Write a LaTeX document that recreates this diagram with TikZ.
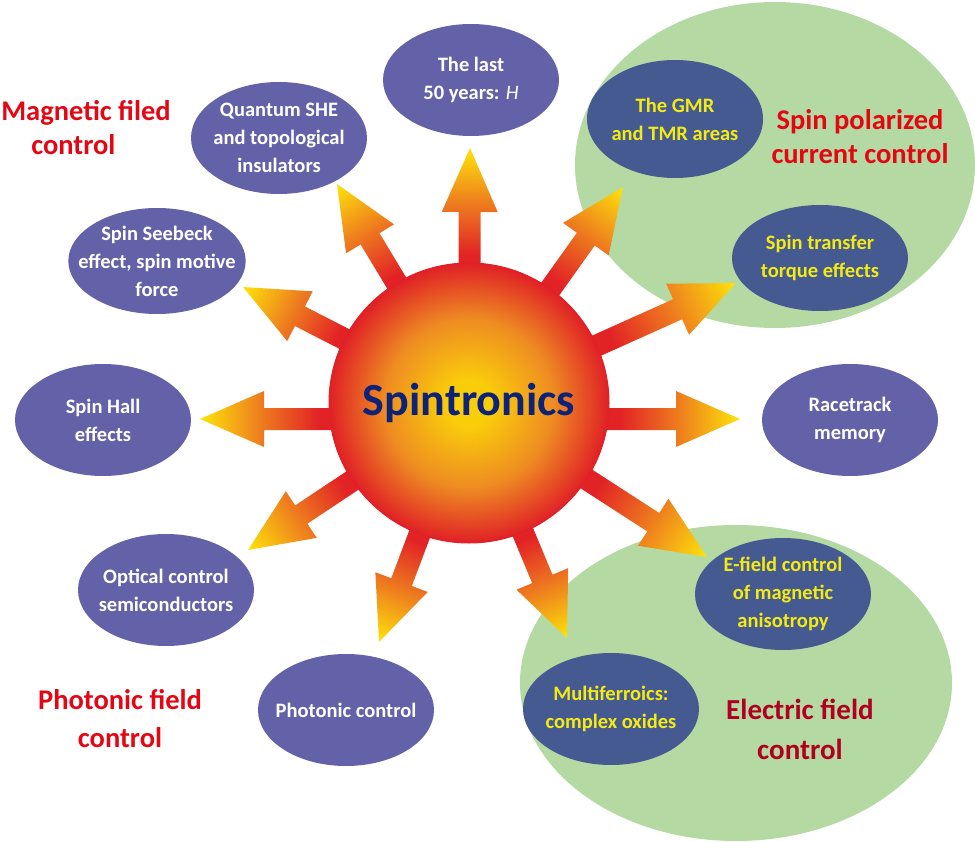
\documentclass[tikz,border=0pt]{standalone}
\usepackage{fontspec}
\setmainfont{Carlito}
\usetikzlibrary{shapes.geometric,calc}

\definecolor{topicpurple}{RGB}{99,97,167}
\definecolor{subblue}{RGB}{69,90,145}
\definecolor{subyellow}{RGB}{245,235,20}
\definecolor{zonegreen}{RGB}{181,217,163}
\definecolor{fieldred}{RGB}{227,6,19}
\definecolor{darkfieldred}{RGB}{176,0,32}
\definecolor{sunblue}{RGB}{12,35,120}
\definecolor{sunyellow}{RGB}{250,205,10}
\definecolor{sunorange}{RGB}{238,140,34}
\definecolor{sunred}{RGB}{224,32,38}
\definecolor{rayred}{RGB}{226,35,38}
\definecolor{rayorange}{RGB}{238,125,30}
\definecolor{rayyellow}{RGB}{253,228,10}

\pgfdeclarehorizontalshading{raygrad}{100bp}{color(0bp)=(rayred); color(25bp)=(rayred); color(36bp)=(rayred); color(55bp)=(rayorange); color(75bp)=(rayyellow); color(100bp)=(rayyellow)}
\pgfdeclareradialshading{sunball}{\pgfpoint{0bp}{0bp}}{color(0bp)=(sunyellow); color(4bp)=(sunyellow); color(15bp)=(sunorange); color(22bp)=(sunred!70!sunorange); color(25bp)=(sunred); color(50bp)=(sunred)}

\pgfdeclarelayer{zones}
\pgfdeclarelayer{rays}
\pgfsetlayers{zones,rays,main}

\tikzset{
  topic/.style={ellipse, fill=topicpurple, text=white,
    inner xsep=-16pt, inner ysep=0pt,
    font=\bfseries\fontsize{20.5}{28}\selectfont, align=center,
    minimum width=176pt, minimum height=112pt},
  subtopic/.style={topic, fill=subblue, text=subyellow},
  zone/.style={ellipse, fill=zonegreen, inner sep=0pt},
  field/.style={text=fieldred, align=center,
    font=\bfseries\fontsize{28.5}{34}\selectfont},
}

% block arrow from #1 to the tip #2
\newcommand\ray[2]{%
  \path let \p1=($(#2)-(#1)$) in
    \pgfextra{\pgfmathsetmacro\rayang{atan2(\y1,\x1)}%
      \pgfmathsetmacro\raylen{veclen(\x1,\y1)}%
      \global\let\rayang\rayang\global\let\raylen\raylen};
  \shade[shading=raygrad, transform canvas={shift={(#1)},rotate=\rayang}]
    (118,-11) -- ({\raylen-64},-11) -- ({\raylen-64},-28) -- (\raylen,0)
    -- ({\raylen-64},28) -- ({\raylen-64},11) -- (118,11) -- cycle;
}

\begin{document}
\begin{tikzpicture}[x=1pt,y=-1pt]
\useasboundingbox (0,0) rectangle (975,842);

\begin{pgfonlayer}{zones}
\node[zone, minimum width=400pt, minimum height=326pt] (spinzone) at (775,165) {};
\node[zone, minimum width=432pt, minimum height=316pt] (elzone) at (736,683) {};
\end{pgfonlayer}

% the sun
\coordinate (core) at (469,403);
\coordinate (coremid) at (469,419);
\node[circle, minimum size=280pt, shade, shading=sunball, draw=sunred, line width=1pt,
  text=sunblue, font=\bfseries\fontsize{46}{50}\selectfont] (sun) at (core) {Spintronics};

% topics
\node[topic] (last) at (471,80) {The last\\50 years: \textit{\mdseries H}};
\node[topic] (qshe) at (279,138) {Quantum SHE\\and topological\\insulators};
\node[topic, minimum height=106pt] (seebeck) at (157,261) {Spin Seebeck\\effect, spin motive\\force};
\node[topic] (hall) at (103,420) {Spin Hall\\effects};
\node[topic] (optical) at (166,590) {Optical control\\semiconductors};
\node[topic] (photonic) at (346,710) {Photonic control};
\node[topic] (race) at (850,420) {Racetrack\\memory};
\node[subtopic, minimum height=118pt] (gmr) at (675,119) {The GMR\\and TMR areas};
\node[subtopic, minimum height=106pt] (stt) at (820,258) {Spin transfer\\torque effects};
\node[subtopic] (efield) at (783,594) {E-field control\\of magnetic\\anisotropy};
\node[subtopic] (multi) at (611,709) {Multiferroics:\\complex oxides};

% field labels
\node[field, align=left] (magfield) at (86,128) {Magnetic filed\\\hspace*{30pt}control};
\node[field] (spinfield) at (860,137) {Spin polarized\\current control};
\node[field, text=darkfieldred, font=\bfseries\fontsize{29}{40}\selectfont] (elfield) at (800,729) {Electric field\\control};
\node[field, font=\bfseries\fontsize{28.5}{38}\selectfont] (photfield) at (120,719) {Photonic field\\control};

% rays
\begin{pgfonlayer}{rays}
\coordinate (tiplast) at (470,148);
\coordinate (tipqshe) at (337,184);
\coordinate (tipseebeck) at (243,287);
\coordinate (tiphall) at (200,419);
\coordinate (tipoptical) at (248,550);
\coordinate (tipphotonic) at (379,642);
\coordinate (tipmulti) at (567,638);
\coordinate (tipefield) at (707,557);
\coordinate (tiprace) at (740,419);
\coordinate (tipstt) at (736,283);
\coordinate (tipgmr) at (623,187);
\ray{core}{tiplast}
\ray{core}{tipqshe}
\ray{core}{tipseebeck}
\ray{coremid}{tiphall}
\ray{core}{tipoptical}
\ray{core}{tipphotonic}
\ray{core}{tipmulti}
\ray{core}{tipefield}
\ray{coremid}{tiprace}
\ray{core}{tipstt}
\ray{core}{tipgmr}
\end{pgfonlayer}
\end{tikzpicture}
\end{document}
